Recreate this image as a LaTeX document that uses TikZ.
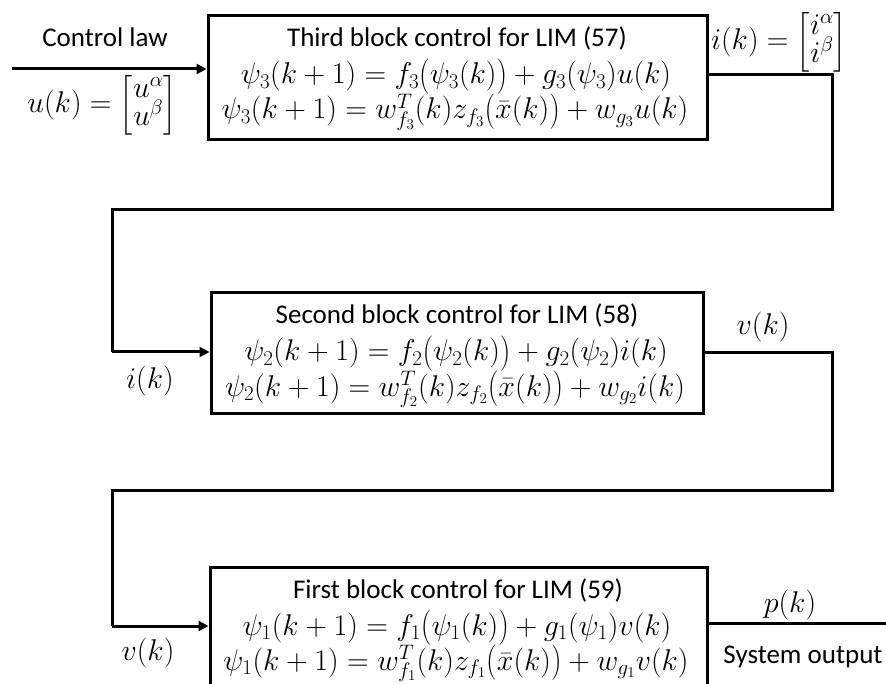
\RequirePackage{fix-cm}
\documentclass[tikz,border=0pt]{standalone}
\usepackage{amsmath}
\usepackage{fontspec}
\setmainfont{Carlito}
\usetikzlibrary{arrows.meta}
\newcommand{\cmat}[2]{\left[\renewcommand{\arraystretch}{0.75}\begin{matrix}#1\\[-5pt]#2\end{matrix}\right]}
\newcommand{\bp}[1]{\mathopen{\raisebox{-1.5pt}{\scalebox{1}[1.18]{$($}}}#1\mathclose{\raisebox{-1.5pt}{\scalebox{1}[1.18]{$)$}}}}
\tikzset{
  blk/.style={draw, line width=3pt, inner sep=0pt},
  wire/.style={line width=3pt, line join=miter},
  arr/.style={wire, -{Triangle[length=10pt,width=10pt]}},
  txt/.style={inner sep=0pt, anchor=base, font=\fontsize{27}{31}\selectfont},
  mth/.style={inner sep=0pt, anchor=base, font=\fontsize{30}{34}\selectfont},
  lbl/.style={inner sep=0pt, font=\fontsize{30}{34}\selectfont},
}
\begin{document}
\begin{tikzpicture}[x=1pt,y=-1pt]
\useasboundingbox (0,0) rectangle (886,684);
% boxes
\node[blk, minimum width=499pt, minimum height=124pt] (b1) at (457.5,78) {};
\node[blk, minimum width=492pt, minimum height=120pt] (b2) at (457,353) {};
\node[blk, minimum width=497pt, minimum height=124pt] (b3) at (458.5,629) {};
% box 1 text
\node[txt] (t1) at (457,47) {Third block control for LIM (57)};
\node[mth] (e1a) at (456,84) {$\psi_3(k+1)=f_3\bp{\psi_3(k)}+g_3(\psi_3)u(k)$};
\node[mth] (e1b) at (455,119) {$\psi_3(k+1)=w_{f_3}^T(k)z_{f_3}\bp{\bar{x}(k)}+w_{g_3}u(k)$};
% box 2 text
\node[txt] (t2) at (457,324) {Second block control for LIM (58)};
\node[mth] (e2a) at (456,361) {$\psi_2(k+1)=f_2\bp{\psi_2(k)}+g_2(\psi_2)i(k)$};
\node[mth] (e2b) at (455,396) {$\psi_2(k+1)=w_{f_2}^T(k)z_{f_2}\bp{\bar{x}(k)}+w_{g_2}i(k)$};
% box 3 text
\node[txt] (t3) at (458,598) {First block control for LIM (59)};
\node[mth] (e3a) at (457,635) {$\psi_1(k+1)=f_1\bp{\psi_1(k)}+g_1(\psi_1)v(k)$};
\node[mth] (e3b) at (456,670) {$\psi_1(k+1)=w_{f_1}^T(k)z_{f_1}\bp{\bar{x}(k)}+w_{g_1}v(k)$};
% labels
\node[txt] (cl) at (105,47) {Control law};
\node[mth] (ul) at (102,113) {$u(k)=\cmat{u^\alpha}{u^\beta}$};
\node[mth] (il) at (779,50) {$i(k)=\cmat{i^\alpha}{i^\beta}$};
\node[lbl] (ik) at (150,381) {$i(k)$};
\node[lbl] (vk2) at (763,327) {$v(k)$};
\node[lbl] (vk3) at (148,653) {$v(k)$};
\node[lbl] (pk) at (790,605) {$p(k)$};
\node[txt] (so) at (803,663) {System output};
% coordinates
\coordinate (in) at (12,69);
\coordinate (a1) at (832,75);
\coordinate (a2) at (832,210);
\coordinate (a3) at (112,210);
\coordinate (a4) at (112,352);
\coordinate (c1) at (832,353);
\coordinate (c2) at (832,490);
\coordinate (c3) at (112,490);
\coordinate (c4) at (112,626);
\coordinate (out) at (886,623);
% wires
\draw[arr] (in) -- (in -| b1.west);
\draw[wire] (b1.east |- a1) -- (a1) -- (a2) -- (a3) -- (a4);
\draw[arr] (a4) -- (a4 -| b2.west);
\draw[wire] (b2.east |- c1) -- (c1) -- (c2) -- (c3) -- (c4);
\draw[arr] (c4) -- (c4 -| b3.west);
\draw[wire] (b3.east |- out) -- (out);
\end{tikzpicture}
\end{document}
